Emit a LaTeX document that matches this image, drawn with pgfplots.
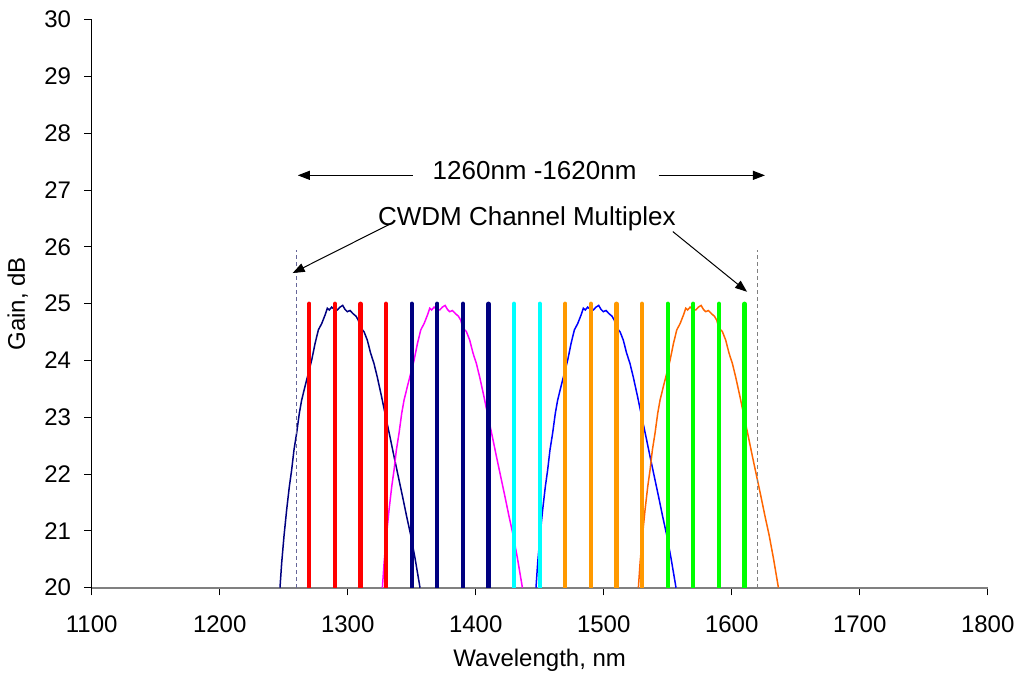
\documentclass[border=0pt]{standalone}
\usepackage{fontspec}
\setmainfont{Liberation Sans}
\usepackage{pgfplots}
\pgfplotsset{compat=1.18}
\usetikzlibrary{arrows.meta}

\definecolor{chred}{RGB}{255,0,0}
\definecolor{chnavy}{RGB}{0,0,128}
\definecolor{chcyan}{RGB}{0,255,255}
\definecolor{chorange}{RGB}{255,153,0}
\definecolor{chgreen}{RGB}{0,255,0}
\definecolor{cvnavy}{RGB}{0,0,128}
\definecolor{cvmag}{RGB}{255,0,255}
\definecolor{cvblue}{RGB}{0,0,255}
\definecolor{cvorange}{RGB}{255,102,0}
\definecolor{slate}{RGB}{102,102,153}

\begin{document}
\begin{tikzpicture}
\path[use as bounding box] (-45.85pt,-44.65pt) rectangle (463.15pt,293.85pt);
\begin{axis}[
  scale only axis,
  width=448pt, height=284pt,
  xmin=1100, xmax=1800, ymin=20, ymax=30,
  xtick={1100,1200,...,1800}, ytick={20,21,...,30},
  axis x line*=bottom, axis y line*=left,
  x axis line style={-, draw=gray, line width=1pt},
  y axis line style={-, draw=black, line width=0.5pt},
  tick align=outside, major tick length=3.8pt,
  tick style={black, line width=0.5pt},
  /pgf/number format/assume math mode=true,
  /pgf/number format/1000 sep={},
  tick label style={font=\fontsize{12}{14}\selectfont},
  xticklabel style={yshift=-6.5pt},
  yticklabel style={xshift=-3pt},
  every axis x label/.style={at={(axis description cs:0.5,-0.128)}, anchor=center},
  every axis y label/.style={at={(axis description cs:-0.0826,0.5)}, anchor=center, rotate=90},
  label style={font=\fontsize{12}{14}\selectfont},
  xlabel={Wavelength, nm},
  ylabel={Gain, dB},
]
% gain curves
\addplot[cvnavy, line width=0.75pt] coordinates {
(1247.1,20.00)(1248.4,20.43)(1250.2,20.90)(1252.3,21.37)(1254.4,21.78)(1256.2,22.07)
(1258.0,22.42)(1260.1,22.72)(1262.2,23.07)(1264.0,23.30)(1266.6,23.54)(1269.2,23.77)
(1271.9,24.01)(1274.5,24.30)(1277.1,24.54)(1279.7,24.65)(1282.3,24.80)(1284.1,24.92)
(1285.6,24.89)(1287.5,24.94)(1289.6,24.90)(1291.9,24.89)(1294.0,24.94)(1296.1,24.97)
(1297.9,24.90)(1299.7,24.86)(1301.8,24.88)(1304.4,24.82)(1306.5,24.78)(1308.3,24.71)
(1310.1,24.57)(1312.7,24.51)(1315.3,24.36)(1317.9,24.13)(1320.5,23.95)(1323.1,23.71)
(1326.5,23.36)(1329.7,23.01)(1333.0,22.66)(1336.2,22.31)(1339.6,21.95)(1342.9,21.60)
(1346.1,21.25)(1349.2,20.93)(1352.6,20.52)(1356.5,20.00)
};
\addplot[cvmag, line width=0.75pt] coordinates {
(1327.1,20.00)(1328.4,20.43)(1330.2,20.90)(1332.3,21.37)(1334.4,21.78)(1336.2,22.07)
(1338.0,22.42)(1340.1,22.72)(1342.2,23.07)(1344.0,23.30)(1346.6,23.54)(1349.2,23.77)
(1351.9,24.01)(1354.5,24.30)(1357.1,24.54)(1359.7,24.65)(1362.3,24.80)(1364.1,24.92)
(1365.6,24.89)(1367.5,24.94)(1369.6,24.90)(1371.9,24.89)(1374.0,24.94)(1376.1,24.97)
(1377.9,24.90)(1379.7,24.86)(1381.8,24.88)(1384.4,24.82)(1386.5,24.78)(1388.3,24.71)
(1390.1,24.57)(1392.7,24.51)(1395.3,24.36)(1397.9,24.13)(1400.5,23.95)(1403.1,23.71)
(1406.5,23.36)(1409.7,23.01)(1413.0,22.66)(1416.2,22.31)(1419.6,21.95)(1422.9,21.60)
(1426.1,21.25)(1429.2,20.93)(1432.6,20.52)(1436.5,20.00)
};
\addplot[cvblue, line width=0.75pt] coordinates {
(1447.1,20.00)(1448.4,20.43)(1450.2,20.90)(1452.3,21.37)(1454.4,21.78)(1456.2,22.07)
(1458.0,22.42)(1460.1,22.72)(1462.2,23.07)(1464.0,23.30)(1466.6,23.54)(1469.2,23.77)
(1471.9,24.01)(1474.5,24.30)(1477.1,24.54)(1479.7,24.65)(1482.3,24.80)(1484.1,24.92)
(1485.6,24.89)(1487.5,24.94)(1489.6,24.90)(1491.9,24.89)(1494.0,24.94)(1496.1,24.97)
(1497.9,24.90)(1499.7,24.86)(1501.8,24.88)(1504.4,24.82)(1506.5,24.78)(1508.3,24.71)
(1510.1,24.57)(1512.7,24.51)(1515.3,24.36)(1517.9,24.13)(1520.5,23.95)(1523.1,23.71)
(1526.5,23.36)(1529.7,23.01)(1533.0,22.66)(1536.2,22.31)(1539.6,21.95)(1542.9,21.60)
(1546.1,21.25)(1549.2,20.93)(1552.6,20.52)(1556.5,20.00)
};
\addplot[cvorange, line width=0.75pt] coordinates {
(1527.1,20.00)(1528.4,20.43)(1530.2,20.90)(1532.3,21.37)(1534.4,21.78)(1536.2,22.07)
(1538.0,22.42)(1540.1,22.72)(1542.2,23.07)(1544.0,23.30)(1546.6,23.54)(1549.2,23.77)
(1551.9,24.01)(1554.5,24.30)(1557.1,24.54)(1559.7,24.65)(1562.3,24.80)(1564.1,24.92)
(1565.6,24.89)(1567.5,24.94)(1569.6,24.90)(1571.9,24.89)(1574.0,24.94)(1576.1,24.97)
(1577.9,24.90)(1579.7,24.86)(1581.8,24.88)(1584.4,24.82)(1586.5,24.78)(1588.3,24.71)
(1590.1,24.57)(1592.7,24.51)(1595.3,24.36)(1597.9,24.13)(1600.5,23.95)(1603.1,23.71)
(1606.5,23.36)(1609.7,23.01)(1613.0,22.66)(1616.2,22.31)(1619.6,21.95)(1622.9,21.60)
(1626.1,21.25)(1629.2,20.93)(1632.6,20.52)(1636.5,20.00)
};
% band limits
\addplot[slate, line width=0.75pt, dash pattern=on 2pt off 1.5pt] coordinates {(1260,20)(1260,25.95)};
\addplot[gray, line width=0.75pt, dash pattern=on 2pt off 1.5pt] coordinates {(1620,20)(1620,25.95)};
% CWDM channels
\pgfplotsset{chan/.style={line width=2.1pt, line cap=round, unbounded coords=jump}}
\addplot[chred, chan] coordinates {(1270,20)(1270,25)(1280,nan)(1290,20)(1290,25)(1300,nan)(1310,20)(1310,25)(1320,nan)(1330,20)(1330,25)};
\addplot[chnavy, chan] coordinates {(1350,20)(1350,25)(1360,nan)(1370,20)(1370,25)(1380,nan)(1390,20)(1390,25)(1400,nan)(1410,20)(1410,25)};
\addplot[chcyan, chan] coordinates {(1430,20)(1430,25)(1440,nan)(1450,20)(1450,25)};
\addplot[chorange, chan] coordinates {(1470,20)(1470,25)(1480,nan)(1490,20)(1490,25)(1500,nan)(1510,20)(1510,25)(1520,nan)(1530,20)(1530,25)};
\addplot[chgreen, chan] coordinates {(1550,20)(1550,25)(1560,nan)(1570,20)(1570,25)(1580,nan)(1590,20)(1590,25)(1600,nan)(1610,20)(1610,25)};
% annotations
\node[font=\fontsize{13}{15}\selectfont] at (axis cs:1446,27.35) {1260nm -1620nm};
\draw[-{Triangle[length=6pt,width=4.5pt]}, line width=0.5pt] (axis cs:1351,27.26) -- (axis cs:1261,27.26);
\draw[-{Triangle[length=6pt,width=4.5pt]}, line width=0.5pt] (axis cs:1543,27.26) -- (axis cs:1626,27.26);
\node[font=\fontsize{13}{15}\selectfont] at (axis cs:1440,26.50) {CWDM Channel Multiplex};
\draw[-{Triangle[length=6pt,width=4.5pt]}, line width=0.5pt] (axis cs:1332,26.39) -- (axis cs:1257,25.54);
\draw[-{Triangle[length=6pt,width=4.5pt]}, line width=0.5pt] (axis cs:1554,26.27) -- (axis cs:1612,25.21);
\end{axis}
\end{tikzpicture}
\end{document}
